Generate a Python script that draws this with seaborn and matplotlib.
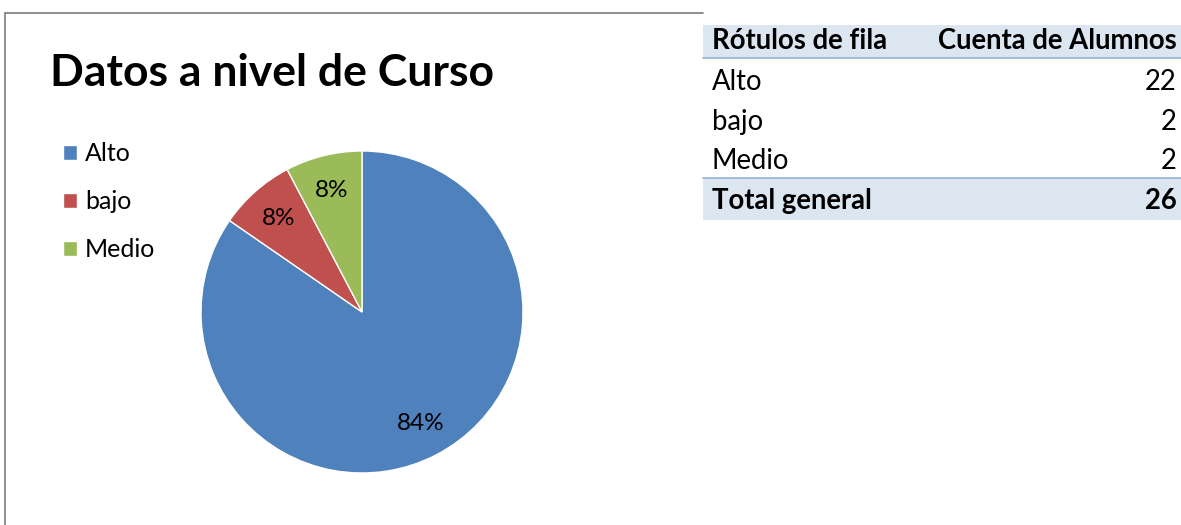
import matplotlib
matplotlib.use("Agg")
import matplotlib.pyplot as plt
import seaborn as sns
from matplotlib.patches import Rectangle
from matplotlib.lines import Line2D

# =========================================
# DATA
# =========================================

categories = ["Alto", "bajo", "Medio"]
counts = [22, 2, 2]
pct_labels = ["84%", "8%", "8%"]
total_label = "Total general"
total_value = 26
header = ["Rótulos de fila", "Cuenta de Alumnos"]
title = "Datos a nivel de Curso"

colors = ["#4F81BD", "#C0504D", "#9BBB59"]

# =========================================
# STYLE
# =========================================

sns.set_theme(style="white")
plt.rcParams["font.family"] = ["Lato", "DejaVu Sans"]
plt.rcParams["text.color"] = "black"

W, H = 1181, 525
fig = plt.figure(figsize=(W / 100, H / 100), dpi=100)


def fx(px):
    return px / W


def fy(py):
    return 1 - py / H


# chart frame (bottom edge is cut off by the image)
fig.add_artist(Line2D([fx(5), fx(703)], [fy(13), fy(13)], color="#868686", lw=1.3))
fig.add_artist(Line2D([fx(5), fx(5)], [fy(13), fy(530)], color="#868686", lw=1.3))

# =========================================
# PIE
# =========================================

cx, cy, r = 362, 312, 161
ax = fig.add_axes([fx(cx - r), fy(cy + r), fx(2 * r), 2 * r / H])

pct_iter = iter(pct_labels)
wedges, texts, autotexts = ax.pie(
    counts,
    colors=colors,
    startangle=90,
    counterclock=False,
    autopct=lambda p: next(pct_iter),
    pctdistance=0.78,
    wedgeprops=dict(edgecolor="white", linewidth=1),
    textprops=dict(fontsize=17.5, color="black"),
)
ax.set_xlim(-1, 1)
ax.set_ylim(-1, 1)
ax.set_aspect("equal")
ax.axis("off")

fig.text(fx(50), fy(73), title, fontsize=32, fontweight="bold",
         ha="left", va="center", color="black")

fig.legend(
    wedges, categories,
    loc="upper left",
    bbox_to_anchor=(fx(63), fy(142)),
    frameon=False,
    fontsize=18,
    labelcolor="black",
    borderpad=0,
    borderaxespad=0,
    handlelength=0.56,
    handleheight=0.56,
    handletextpad=0.32,
    labelspacing=1.0,
)

# =========================================
# PIVOT TABLE
# =========================================

tx0, tx1 = 703, 1181
band = "#DCE6F1"
line_col = "#95B3D7"
fs = 19.8

fig.add_artist(Rectangle((fx(tx0), fy(58)), fx(tx1 - tx0), 33 / H,
                         facecolor=band, edgecolor="none"))
fig.add_artist(Line2D([fx(tx0), fx(tx1)], [fy(58), fy(58)], color=line_col, lw=1.2))
fig.add_artist(Rectangle((fx(tx0), fy(220)), fx(tx1 - tx0), 42 / H,
                         facecolor=band, edgecolor="none"))
fig.add_artist(Line2D([fx(tx0), fx(tx1)], [fy(178), fy(178)], color=line_col, lw=1.2))

fig.text(fx(712), fy(41), header[0], fontsize=fs, fontweight="bold", ha="left", va="center")
fig.text(fx(1177), fy(41), header[1], fontsize=fs, fontweight="bold", ha="right", va="center")

row_y = [82, 122, 161]
for name, val, yy in zip(categories, counts, row_y):
    fig.text(fx(712), fy(yy), name, fontsize=fs, ha="left", va="center")
    fig.text(fx(1177), fy(yy), str(val), fontsize=fs, ha="right", va="center")

fig.text(fx(712), fy(201), total_label, fontsize=fs, fontweight="bold", ha="left", va="center")
fig.text(fx(1177), fy(201), str(total_value), fontsize=fs, fontweight="bold", ha="right", va="center")

plt.savefig("out.png", dpi=100)
